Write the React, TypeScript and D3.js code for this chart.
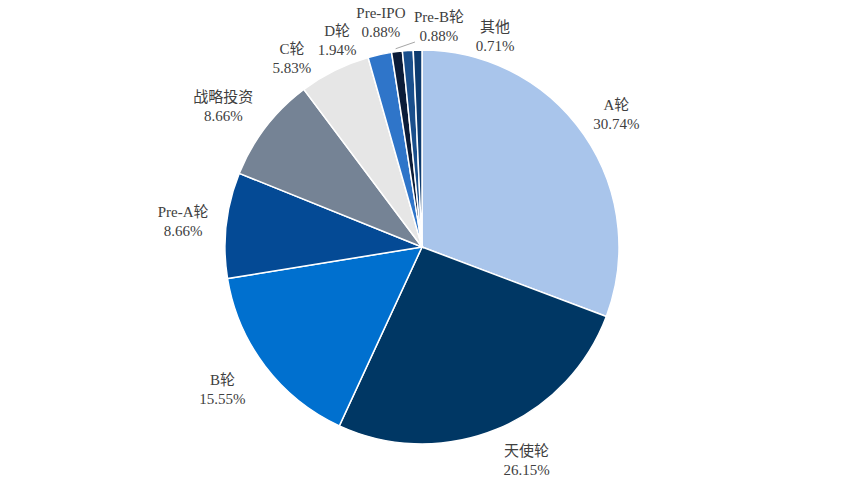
import React from "react";
import * as d3 from "d3";

const categories = ["A轮", "天使轮", "B轮", "Pre-A轮", "战略投资", "C轮", "D轮", "Pre-IPO", "Pre-B轮", "其他"];
const values = [30.74, 26.15, 15.55, 8.66, 8.66, 5.83, 1.94, 0.88, 0.88, 0.71];
const colors = ["#A9C5EB", "#003764", "#0070CF", "#044A95", "#758395", "#E6E6E6", "#2F75C9", "#0B1C38", "#1A4F8C", "#0D3B6F"];
// angular nudges (degrees) for crowded labels
const labelNudge = [0, -4, 2, 0, -2, -8, -9.8, -3, 8.5, 20.3];
const labelRadiusFactor = [1.2, 1.2, 1.24, 1.22, 1.24, 1.17, 1.14, 1.165, 1.13, 1.138];

const W = 843, H = 490;
const cx = 422, cy = 247, R = 197;

export default function App() {
  const pie = d3.pie<number>().sort(null).value((d) => d)(values);
  const arc = d3.arc<d3.PieArcDatum<number>>().innerRadius(0).outerRadius(R);
  const font = "'Times New Roman', 'Liberation Serif', 'Noto Sans CJK SC', serif";
  return (
    <svg width={W} height={H} style={{ position: "absolute", left: 0, top: 0, background: "#fff" }}>
      <g transform={`translate(${cx},${cy})`}>
        {pie.map((p, i) => (
          <path key={i} d={arc(p) || ""} fill={colors[i]} stroke="#fff" strokeWidth={1.5} />
        ))}
        {pie.map((p, i) => {
          const mid = (p.startAngle + p.endAngle) / 2 + (labelNudge[i] * Math.PI) / 180;
          const r = R * labelRadiusFactor[i];
          const x = Math.sin(mid) * r;
          const y = -Math.cos(mid) * r;
          return (
            <g key={"l" + i}>
              <text x={x} y={y - 3} textAnchor="middle" fontFamily={font} fontSize={15} fill="#404040">
                {categories[i]}
              </text>
              <text x={x} y={y + 16} textAnchor="middle" fontFamily={font} fontSize={15} fill="#404040">
                {values[i].toFixed(2)}%
              </text>
            </g>
          );
        })}
        {(() => {
          const i = 8;
          const p = pie[i];
          const mid = (p.startAngle + p.endAngle) / 2;
          const x0 = Math.sin(mid - 0.06) * (R + 3);
          const y0 = -Math.cos(mid - 0.06) * (R + 3);
          const lm = mid + (labelNudge[i] * Math.PI) / 180;
          const lr = R * labelRadiusFactor[i];
          const x1 = Math.sin(lm) * lr - 24;
          const y1 = -Math.cos(lm) * lr + 17;
          return <line x1={x0} y1={y0} x2={x1} y2={y1} stroke="#A6A6A6" strokeWidth={1} />;
        })()}
      </g>
    </svg>
  );
}
